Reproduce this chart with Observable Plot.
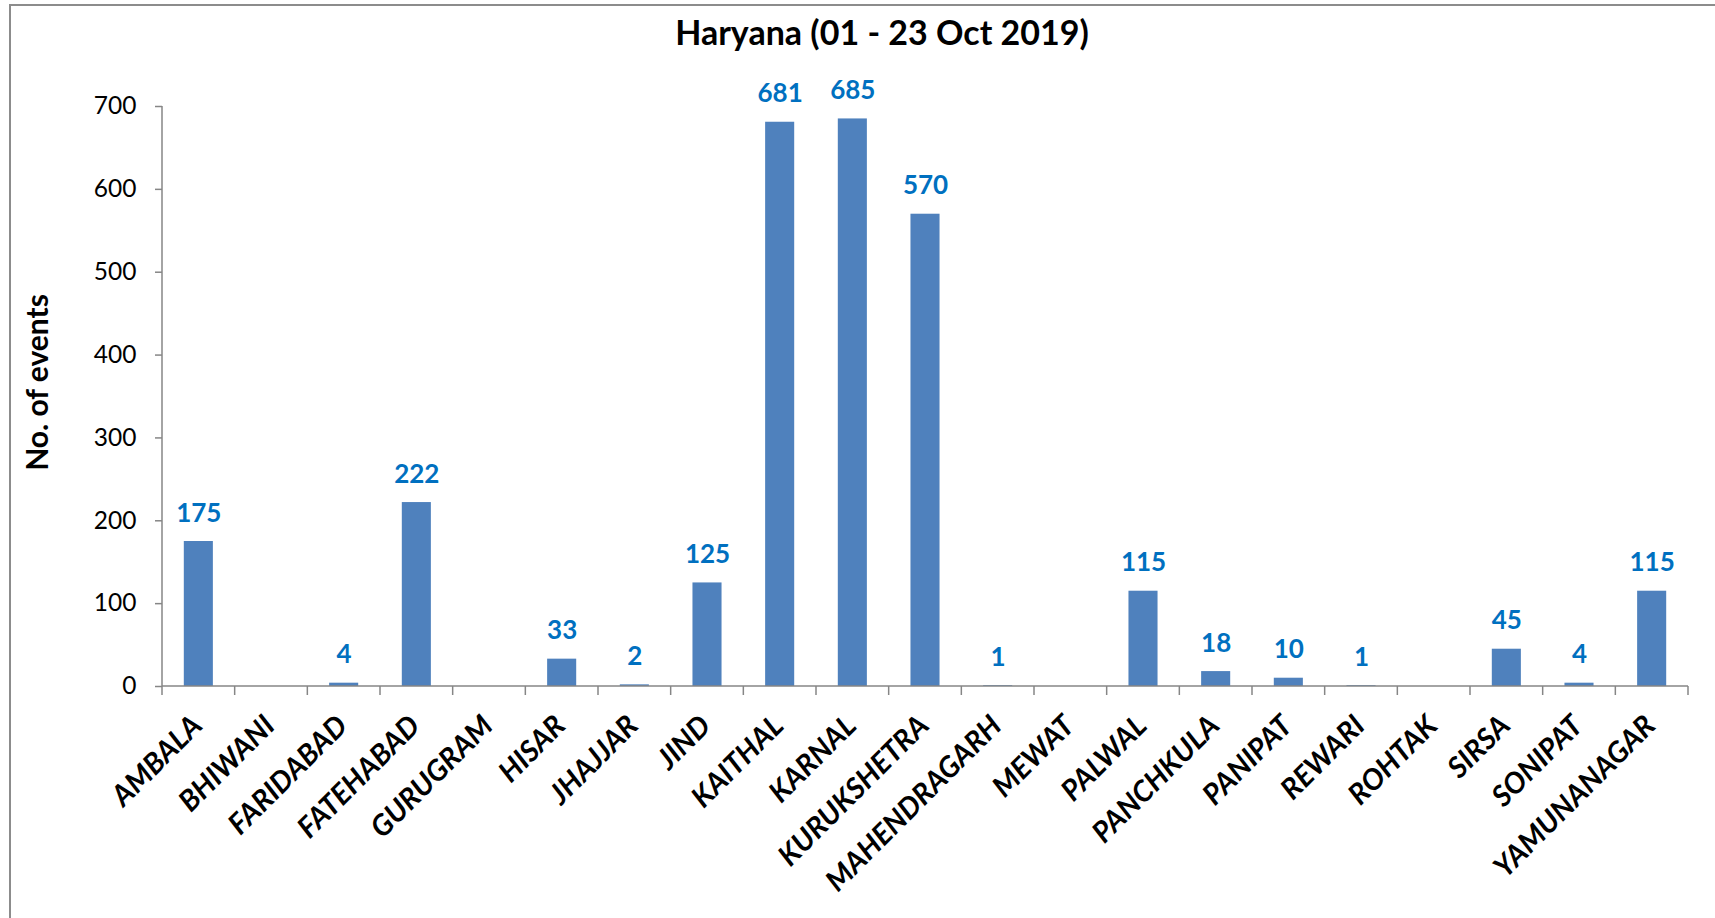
<!DOCTYPE html>
<html>
<head>
<meta charset="utf-8">
<script src="https://cdn.jsdelivr.net/npm/d3@7"></script>
<script src="https://cdn.jsdelivr.net/npm/@observablehq/plot@0.6"></script>
<style>
  html, body { margin: 0; padding: 0; background: #fff; }
  #wrap { position: relative; width: 1715px; height: 918px; overflow: hidden; font-family: Lato, "Open Sans", sans-serif; }
  #frame { position: absolute; left: 9px; top: 4px; width: 2000px; height: 2000px; border-left: 2px solid #8c8c8c; border-top: 2px solid #8c8c8c; box-sizing: border-box; }
  #title { position: absolute; left: 0; width: 1764px; top: 12px; text-align: center; font-weight: 700; font-size: 34px; color: #000; line-height: 40px; }
  #chart { position: absolute; left: 0; top: 0; }
</style>
</head>
<body>
<div id="wrap">
  <div id="frame"></div>
  <div id="chart"></div>
  <div id="title">Haryana (01 - 23 Oct 2019)</div>
</div>
<script>
const categories = ["AMBALA","BHIWANI","FARIDABAD","FATEHABAD","GURUGRAM","HISAR","JHAJJAR","JIND","KAITHAL","KARNAL","KURUKSHETRA","MAHENDRAGARH","MEWAT","PALWAL","PANCHKULA","PANIPAT","REWARI","ROHTAK","SIRSA","SONIPAT","YAMUNANAGAR"];
const events = [175,0,4,222,0,33,2,125,681,685,570,1,0,115,18,10,1,0,45,4,115];
const yTicks = [0,100,200,300,400,500,600,700];
const yLabel = "No. of events";

const data = categories.map((c, i) => ({district: c, value: events[i]}));
const labelled = data.filter(d => d.value > 0);

const axisColor = "#868686";

// axis lines + category boundary ticks drawn from the scales
const axisLines = (index, scales, values, dims) => {
  const x = scales.x, y = scales.y;
  const n = categories.length;
  const step = x.step ? x.step() : (dims.width - dims.marginLeft - dims.marginRight) / n;
  const bw = x.bandwidth ? x.bandwidth() : 0;
  const y0 = y(0), yTop = y(yTicks[yTicks.length - 1]);
  const bounds = categories.map(c => x(c) + bw / 2 - step / 2);
  bounds.push(x(categories[n - 1]) + bw / 2 + step / 2);
  const g = d3.create("svg:g").attr("stroke", axisColor).attr("stroke-width", 1.5).attr("fill", "none");
  g.append("line").attr("x1", bounds[0]).attr("x2", bounds[0]).attr("y1", yTop).attr("y2", y0);
  g.append("line").attr("x1", bounds[0]).attr("x2", bounds[n]).attr("y1", y0).attr("y2", y0);
  for (const bx of bounds) {
    g.append("line").attr("x1", bx).attr("x2", bx).attr("y1", y0).attr("y2", y0 + 9);
  }
  return g.node();
};

const chart = Plot.plot({
  width: 1715,
  height: 918,
  marginLeft: 162,
  marginRight: 27,
  marginTop: 106,
  marginBottom: 232,
  style: {fontFamily: "Lato, 'Open Sans', sans-serif", fontSize: "24px", color: "#000", background: "transparent"},
  x: {domain: categories, paddingInner: 0.6, paddingOuter: 0.3, round: false, axis: null},
  y: {domain: [0, 700], axis: null},
  marks: [
    Plot.barY(data, {x: "district", y: "value", fill: "#4F81BD"}),
    axisLines,
    Plot.axisY({ticks: yTicks, tickSize: 7, tickPadding: 19, stroke: axisColor, fill: "#000", strokeWidth: 1.5, label: null, tickFormat: d => d, fontSize: 24.5}),
    Plot.text(labelled, {x: "district", y: "value", text: d => String(d.value), dy: -20, lineAnchor: "bottom", fill: "#0070C0", fontWeight: "bold", fontSize: 26}),
    Plot.text(categories, {x: d => d, text: d => d, frameAnchor: "bottom", dx: 5, dy: 41, rotate: -45, textAnchor: "end", lineAnchor: "bottom", fontWeight: "bold", fontStyle: "italic", fontSize: 29, fill: "#000"}),
    Plot.text([yLabel], {text: d => d, frameAnchor: "left", dx: -124, dy: -14, rotate: -90, textAnchor: "middle", fontWeight: "bold", fontSize: 30, fill: "#000"})
  ]
});
document.getElementById("chart").appendChild(chart);
</script>
</body>
</html>
